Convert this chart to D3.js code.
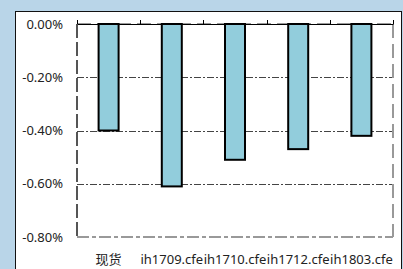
<!DOCTYPE html>
<meta charset="utf-8">
<head>
    <script src="https://d3js.org/d3.v7.min.js"></script>
    <style>
        body { margin: 0; background: #b9d5e8; overflow: hidden; }
        text { font-family: "Noto Sans", "Noto Sans CJK SC", sans-serif; fill: #222; }
    </style>
</head>
<body>
<div id="chart"></div>
<script>
    // data
    const categories = ["现货", "ih1709.cfe", "ih1710.cfe", "ih1712.cfe", "ih1803.cfe"];
    const values = [-0.0040, -0.0061, -0.0051, -0.0047, -0.0042];
    const yTicks = [0, -0.002, -0.004, -0.006, -0.008];

    const W = 403, H = 269;
    const svg = d3.select("#chart").append("svg")
        .attr("width", W)
        .attr("height", H)
        .style("display", "block");

    // white panel
    svg.append("rect")
        .attr("x", 15.5).attr("y", 11.5)
        .attr("width", 386).attr("height", 270)
        .attr("fill", "#fff")
        .attr("stroke", "#111")
        .attr("stroke-width", 1);

    const plotLeft = 77, plotRight = 393, plotTop = 24, plotBottom = 237;

    const x = d3.scaleBand()
        .domain(categories)
        .range([plotLeft, plotRight]);

    const y = d3.scaleLinear()
        .domain([-0.008, 0])
        .range([plotBottom, plotTop]);

    // gridlines
    svg.append("g")
        .selectAll("line")
        .data(yTicks.filter(d => d !== 0 && d !== -0.008))
        .enter()
        .append("line")
        .attr("x1", plotLeft).attr("x2", plotRight)
        .attr("y1", d => Math.round(y(d)) + 0.5)
        .attr("y2", d => Math.round(y(d)) + 0.5)
        .attr("stroke", "#444")
        .attr("stroke-width", 1)
        .attr("stroke-dasharray", "7,2,2,2");

    // plot area border: dashed gray
    svg.append("line")
        .attr("x1", plotLeft).attr("x2", plotRight)
        .attr("y1", plotBottom).attr("y2", plotBottom)
        .attr("stroke", "#999").attr("stroke-width", 2)
        .attr("stroke-dasharray", "12,3,4,3");
    svg.append("line")
        .attr("x1", plotRight).attr("x2", plotRight)
        .attr("y1", plotTop).attr("y2", plotBottom)
        .attr("stroke", "#999").attr("stroke-width", 2)
        .attr("stroke-dasharray", "14,6");
    svg.append("line")
        .attr("x1", plotLeft).attr("x2", plotLeft)
        .attr("y1", plotTop).attr("y2", plotBottom)
        .attr("stroke", "#555").attr("stroke-width", 2)
        .attr("stroke-dasharray", "14,4");
    svg.append("line")
        .attr("x1", plotLeft).attr("x2", plotRight)
        .attr("y1", plotTop).attr("y2", plotTop)
        .attr("stroke", "#999").attr("stroke-width", 2)
        .attr("stroke-dasharray", "14,6");

    // bars
    const barW = 20;
    svg.append("g")
        .selectAll("rect")
        .data(values)
        .enter()
        .append("rect")
        .attr("x", (d, i) => x(categories[i]) + x.bandwidth() / 2 - barW / 2)
        .attr("y", y(0))
        .attr("width", barW)
        .attr("height", d => y(d) - y(0))
        .attr("fill", "#92cddc")
        .attr("stroke", "#000")
        .attr("stroke-width", 2);

    // zero axis on top with upward ticks
    const topAxis = d3.axisTop(x).tickSize(0).tickFormat("");
    svg.append("g")
        .attr("transform", `translate(0, ${plotTop})`)
        .call(topAxis)
        .call(g => g.select(".domain").attr("stroke", "#000").attr("stroke-width", 1.2));
    const bounds = categories.map(c => x(c)).concat([plotRight]);
    svg.append("g")
        .selectAll("line")
        .data(bounds)
        .enter()
        .append("line")
        .attr("x1", d => Math.round(d) + 0.5).attr("x2", d => Math.round(d) + 0.5)
        .attr("y1", plotTop).attr("y2", plotTop - 4)
        .attr("stroke", "#000");

    // y labels
    svg.append("g")
        .selectAll("text")
        .data(yTicks)
        .enter()
        .append("text")
        .attr("x", 63)
        .attr("y", d => y(d))
        .attr("dy", "0.35em")
        .attr("text-anchor", "end")
        .style("font-size", "13px")
        .text(d => d3.format(".2%")(d).replace("−", "-"));

    // x labels
    svg.append("g")
        .selectAll("text")
        .data(categories)
        .enter()
        .append("text")
        .attr("x", d => x(d) + x.bandwidth() / 2)
        .attr("y", 259)
        .attr("dy", "0.35em")
        .attr("text-anchor", "middle")
        .style("font-size", "13px")
        .text(d => d);
</script>
</body>
